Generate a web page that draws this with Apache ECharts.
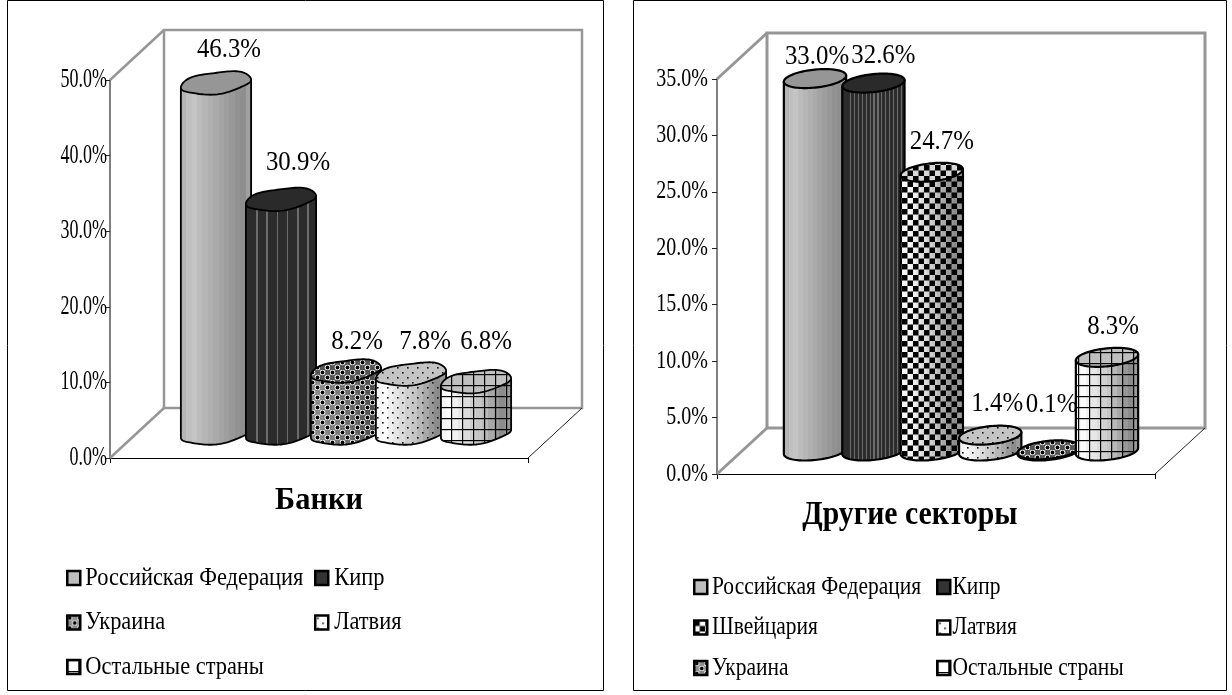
<!DOCTYPE html>
<html><head><meta charset="utf-8">
<style>html,body{margin:0;padding:0;background:#fff}#c{width:1232px;height:695px}</style>
<script src="https://cdn.jsdelivr.net/npm/echarts@6/dist/echarts.min.js"></script>
</head><body><div id="c"></div>
<script>
const bankCategories = ['Банки'];
const bankNames = ['Российская Федерация','Кипр','Украина','Латвия','Остальные страны'];
const bankValues = [46.3,30.9,8.2,7.8,6.8];
const bankTicksMax = 50, bankTicksStep = 10;
const otherCategories = ['Другие секторы'];
const otherNames = ['Российская Федерация','Кипр','Швейцария','Латвия','Украина','Остальные страны'];
const otherValues = [33.0,32.6,24.7,1.4,0.1,8.3];
const otherTicksMax = 35, otherTicksStep = 5;

const FONT = '"Liberation Serif","Times New Roman",serif';

function makePattern(size, draw){
  const c = document.createElement('canvas'); c.width = c.height = size;
  draw(c.getContext('2d'), size);
  return {image:c, repeat:'repeat'};
}
const patterns = {
  circles: makePattern(10,(g)=>{
    g.fillStyle='rgba(0,0,0,.45)'; g.fillRect(0,0,10,10);
    g.fillStyle='#fff'; g.beginPath(); g.arc(2.5,2.5,2.8,0,7); g.fill(); g.beginPath(); g.arc(7.5,7.5,2.8,0,7); g.fill();
    g.fillStyle='#000';
    [[2.5,2.5],[7.5,7.5]].forEach(p=>{g.beginPath(); g.arc(p[0],p[1],1.9,0,7); g.fill();});
  }),
  checker: makePattern(11,(g)=>{ g.fillStyle='#000'; g.fillRect(0,0,5.5,5.5); g.fillRect(5.5,5.5,5.5,5.5); }),
  dots: makePattern(10,(g)=>{ g.fillStyle='#111'; g.fillRect(2,2,1.6,1.6); g.fillRect(7,7,1.6,1.6); }),
  grid: makePattern(11,(g)=>{ g.fillStyle='#000'; g.fillRect(0,0,11,1.2); g.fillRect(0,0,1.2,11); })
};
function bands(colors){
  const stops=[]; const n=colors.length;
  colors.forEach((c,i)=>{stops.push({offset:i/n,color:c}); stops.push({offset:(i+1)/n,color:c});});
  return {type:'linear',x:0,y:0,x2:1,y2:0,colorStops:stops};
}
const lightShade = bands(['#f6f6f6','#fbfbfb','#f0f0f0','#e6e6e6','#dcdcdc','#d0d0d0','#c6c6c6','#b8b8b8','#a8a8a8','#989898','#8c8c8c','#9a9a9a']);
function darkStripes(every){
  const a=[]; for(let i=0;i<48;i++){a.push(i>4&&i%every===0?'#6c6c6c':'#2c2c2c');} return bands(a);
}
const looks = {
  'Российская Федерация': {body:bands(['#b4b4b4','#c0c0c0','#c4c4c4','#bcbcbc','#b6b6b6','#b0b0b0','#aaaaaa','#a4a4a4','#9e9e9e','#989898','#929292','#8e8e8e','#a0a0a0']), top:'#969696'},
  'Кипр': {body:darkStripes(7), bodyRight:darkStripes(3), top:'#2a2a2a'},
  'Украина': {body:lightShade, top:'#9a9a9a', pattern:'circles'},
  'Швейцария': {body:lightShade, top:'#d8d8d8', pattern:'checker'},
  'Латвия': {body:lightShade, top:'#c4c4c4', pattern:'dots'},
  'Остальные страны': {body:lightShade, top:'#c0c0c0', pattern:'grid'}
};

function frameSeries(gridIndex, L, wallColor){
  return {type:'custom', xAxisIndex:gridIndex, yAxisIndex:gridIndex, silent:true, z:1,
    data:[[0,0]], encode:{x:0,y:1}, clip:false,
    renderItem:(params)=>{
      const r=params.coordSys, dx=L.depthX, dy=L.depthY;
      const l=r.x, t=r.y, w=r.width, h=r.height, b=t+h, right=l+w;
      const line=(x1,y1,x2,y2,stroke,lw)=>({type:'line',shape:{x1,y1,x2,y2},style:{stroke,lineWidth:lw}});
      return {type:'group',children:[
        {type:'rect',shape:{x:l+dx,y:t+dy,width:w,height:h},style:{fill:'#fff',stroke:wallColor,lineWidth:L.wallWidth}},
        line(l,t,l+dx,t+dy,wallColor,L.wallWidth),
        line(l,b,l+dx,b+dy,wallColor,L.wallWidth),
        line(right,b,right+dx,b+dy,'#222',1)
      ]};
    }};
}
function cylinderSeries(gridIndex, name, value, index, count, L){
  const look=looks[name];
  return {type:'custom', name, xAxisIndex:gridIndex, yAxisIndex:gridIndex, silent:true, z:2, clip:false,
    data:[[0,value]], encode:{x:0,y:1},
    renderItem:(params,api)=>{
      const band=api.size([1,0])[0], step=band/(count+L.gap);
      const bodyFill=(L.fine&&look.bodyRight)||look.body;
      const cx=api.coord([0,api.value(1)])[0]+(index-(count-1)/2)*step+L.depthX/2;
      const topY=api.coord([0,api.value(1)])[1]+L.depthY/2;
      const botY=api.coord([0,0])[1]+L.depthY/2;
      const pt=(y,t)=>[cx+L.a*Math.cos(t)+L.bx*Math.sin(t), y+L.by*Math.sin(t)+L.wobble*Math.sin(4*t)];
      const t0=Math.atan2(L.bx,L.a), n=48;
      const bodyPts=[pt(topY,t0)];
      for(let i=0;i<=n;i++){bodyPts.push(pt(botY,t0-Math.PI*i/n));}
      bodyPts.push(pt(topY,t0-Math.PI));
      const topPts=[]; for(let i=0;i<n*2;i++){topPts.push(pt(topY,Math.PI*i/n));}
      const stroke={stroke:'#000',lineWidth:L.stroke,lineJoin:'round'};
      const kids=[
        {type:'polygon',shape:{points:bodyPts},style:{fill:bodyFill}}
      ];
      if(look.pattern){kids.push({type:'polygon',shape:{points:bodyPts},style:{fill:patterns[look.pattern]}});}
      kids.push({type:'polygon',shape:{points:bodyPts},style:Object.assign({fill:'none'},stroke)});
      kids.push({type:'polygon',shape:{points:topPts},style:{fill:look.top}});
      if(look.pattern){kids.push({type:'polygon',shape:{points:topPts},style:{fill:patterns[look.pattern]}});}
      kids.push({type:'polygon',shape:{points:topPts},style:Object.assign({fill:'none'},stroke)});
      const nudge=L.nudges[index];
      kids.push({type:'text',x:cx+nudge[0],y:topY+nudge[1],scaleX:L.labelScale,
        style:{text:api.value(1).toFixed(1)+'%',fill:'#000',font:L.labelSize+'px '+FONT,align:'center',verticalAlign:'middle'}});
      return {type:'group',children:kids};
    }};
}
function legendIcon(name){
  const look=looks[name];
  const color=look.pattern?patterns[look.pattern]:(name==='Кипр'?'#333':'#bdbdbd');
  return {name,icon:'rect',itemStyle:{color,borderColor:'#000',borderWidth:2.5}};
}
function legendColumn(names,left,top,gap,size,pad){
  return {data:names.map(legendIcon),orient:'vertical',left,top,itemWidth:13,itemHeight:14,itemGap:gap,selectedMode:false,
    textStyle:{fontFamily:FONT,fontSize:size,color:'#000',lineHeight:16,padding:[0,0,0,pad]},padding:0};
}
function yAxis(gridIndex,max,step,size,color,width,margin){
  return {type:'value',gridIndex,min:0,max,interval:step,splitLine:{show:false},
    axisLine:{show:true,lineStyle:{color,width}},axisTick:{show:true,length:5,lineStyle:{color:'#222',width:1}},
    axisLabel:{margin,fontFamily:FONT,fontSize:size,color:'#000',formatter:v=>v.toFixed(1)+'%'}};
}
function xAxis(gridIndex,cats,margin,size,padRight){
  return {type:'category',gridIndex,data:cats,boundaryGap:true,
    axisLine:{show:true,lineStyle:{color:'#000',width:1}},axisTick:{show:true,length:5,lineStyle:{color:'#000'}},
    axisLabel:{margin,fontFamily:FONT,fontSize:size,fontWeight:'bold',color:'#000',padding:[0,padRight,0,0]}};
}
const layoutBank={depthX:54,depthY:-50,wallWidth:2.5,gap:1.43,a:33,bx:12,by:-11.5,wobble:0.7,stroke:1.8,labelSize:27,labelScale:0.92,fine:false,
  nudges:[[13,-33],[17,-36],[11,-29],[14,-32],[10,-40]]};
const layoutOther={depthX:50,depthY:-46,wallWidth:3,gap:1.5,a:29.5,bx:10,by:-9.5,wobble:0,stroke:2.2,labelSize:27,labelScale:0.92,fine:true,
  nudges:[[2,-22],[10,-27],[10,-30],[7,-31],[3,-45],[6,-30]]};

const chart=echarts.init(document.getElementById('c'),null,{renderer:'canvas'});
chart.setOption({
  animation:false, backgroundColor:'#fff',
  graphic:[
    {type:'rect',silent:true,z:-1,shape:{x:7.5,y:0.5,width:596,height:690},style:{fill:'#fff',stroke:'#000',lineWidth:1}},
    {type:'rect',silent:true,z:-1,shape:{x:633.5,y:0.5,width:593,height:690},style:{fill:'#fff',stroke:'#000',lineWidth:1}}
  ],
  grid:[{left:110,top:80,width:418,height:378},{left:717,top:79,width:438,height:395}],
  xAxis:[xAxis(0,bankCategories,27,32,0),xAxis(1,otherCategories,25,33,58)],
  yAxis:[yAxis(0,bankTicksMax,bankTicksStep,27,'#555',1.5,3),yAxis(1,otherTicksMax,otherTicksStep,25,'#808080',2,9)],
  legend:[
    legendColumn(bankNames.filter((n,i)=>i%2===0),66,565,18.5,26,3),
    legendColumn(bankNames.filter((n,i)=>i%2===1),314,565,18.5,26,4),
    legendColumn(otherNames.filter((n,i)=>i%2===0),693,574,14.5,25.5,3),
    legendColumn(otherNames.filter((n,i)=>i%2===1),936,574,14.5,25.5,0)
  ],
  series:[
    frameSeries(0,layoutBank,'#969696'),
    frameSeries(1,layoutOther,'#969696'),
    ...bankNames.map((n,i)=>cylinderSeries(0,n,bankValues[i],i,bankNames.length,layoutBank)),
    ...otherNames.map((n,i)=>cylinderSeries(1,n,otherValues[i],i,otherNames.length,layoutOther))
  ]
});
// The reference's lettering is horizontally condensed: squeeze the library's own text by font size.
const squeeze={27:0.667,25:0.8,26:0.862,25.5:0.843,32:0.95,33:0.9};
chart.getZr().storage.traverse(el=>{
  if(el.style&&typeof el.style.text==='string'&&el.style.fontSize&&squeeze[el.style.fontSize]&&!el.scaleXSet){
    el.scaleX=squeeze[el.style.fontSize]; el.scaleXSet=true; el.markRedraw&&el.markRedraw();
  }
});
chart.getZr().refresh();
</script></body></html>
